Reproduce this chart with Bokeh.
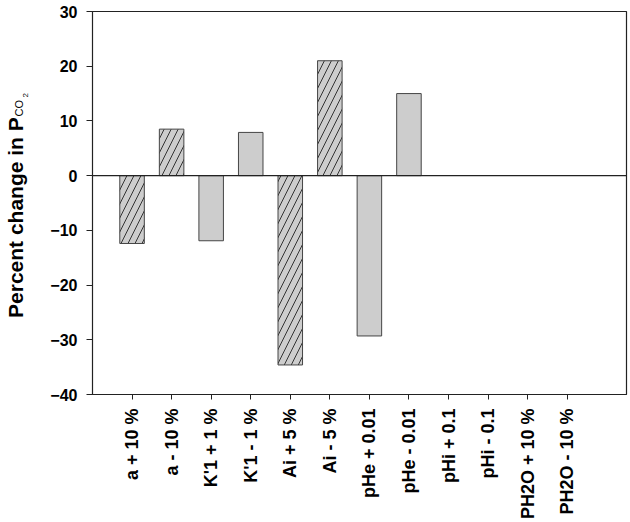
import math
from bokeh.plotting import figure
from bokeh.models import ColumnDataSource, FixedTicker, Span, LinearAxis
from bokeh.embed import file_html
from bokeh.resources import INLINE

categories = ["a + 10 %", "a - 10 %", "K'1 + 1 %", "K'1 - 1 %", "Ai + 5 %", "Ai - 5 %",
              "pHe + 0.01", "pHe - 0.01", "pHi + 0.1", "pHi - 0.1", "PH2O + 10 %", "PH2O - 10 %"]
values = [-12.4, 8.5, -11.9, 7.9, -34.6, 21.0, -29.3, 15.0, 0.0, 0.0, 0.0, 0.0]
hatched = [True, True, False, False, True, True, False, False, False, False, False, False]
y_ticks = [-40, -30, -20, -10, 0, 10, 20, 30]
y_title = "Percent change in P"
y_title_sub = "CO"
y_title_subsub = "2"

positions = list(range(1, len(categories) + 1))
hx = [p for p, h in zip(positions, hatched) if h]
hv = [v for v, h in zip(values, hatched) if h]
px_ = [p for p, h, v in zip(positions, hatched, values) if not h and v != 0]
pv = [v for v, h in zip(values, hatched) if not h and v != 0]

FONT = "Liberation Sans"
NB = "\u00a0"

p = figure(width=630, height=522, x_range=(0, 13.5), y_range=(-40, 30),
           output_backend="svg", toolbar_location=None,
           min_border_left=91, min_border_right=4, min_border_top=11, min_border_bottom=128)
p.grid.visible = False
p.outline_line_color = "#222222"
p.outline_line_width = 1.2
p.background_fill_color = "white"
p.border_fill_color = "white"

src_h = ColumnDataSource(dict(x=hx, top=hv))
src_p = ColumnDataSource(dict(x=px_, top=pv))
p.vbar(x="x", top="top", bottom=0, width=0.62, source=src_h,
       fill_color="#cdcdcd", line_color="#454545", line_width=1,
       hatch_pattern="/", hatch_scale=14, hatch_color="#333333", hatch_weight=1)
p.vbar(x="x", top="top", bottom=0, width=0.62, source=src_p,
       fill_color="#cdcdcd", line_color="#454545", line_width=1)

p.add_layout(Span(location=0, dimension="width", line_color="#222222", line_width=1.2))

# x axis
xa = p.xaxis[0]
xa.ticker = FixedTicker(ticks=positions)
xa.major_label_overrides = {i: c for i, c in zip(positions, categories)}
xa.major_label_orientation = math.pi / 2
xa.major_label_text_font = FONT
xa.major_label_text_font_style = "bold"
xa.major_label_text_font_size = "18px"
xa.major_label_text_color = "black"
xa.major_tick_out = 5
xa.major_tick_in = 0
xa.minor_tick_line_color = None
xa.major_label_standoff = 9
xa.axis_line_color = "#222222"
xa.major_tick_line_color = "#222222"

# y axis
ya = p.yaxis[0]
ya.ticker = FixedTicker(ticks=y_ticks)
ya.major_label_text_font = FONT
ya.major_label_text_font_style = "bold"
ya.major_label_text_font_size = "16px"
ya.major_label_text_color = "black"
ya.major_tick_out = 6
ya.major_tick_in = 0
ya.minor_tick_line_color = None
ya.major_label_standoff = 9
ya.axis_line_color = "#222222"
ya.major_tick_line_color = "#222222"


def title_axis(text, size, style, standoff):
    ax = LinearAxis(ticker=FixedTicker(ticks=[]), axis_label=text,
                    axis_line_color=None, major_tick_line_color=None,
                    minor_tick_line_color=None, major_tick_out=0, major_tick_in=0,
                    axis_label_text_font=FONT, axis_label_text_font_size=size,
                    axis_label_text_font_style=style, axis_label_text_color="black",
                    axis_label_standoff=standoff)
    p.add_layout(ax, "left")
    return ax


# y-axis title "Percent change in P_CO2", built from stacked axis labels
title_axis(NB * 97 + y_title_subsub, "8px", "normal", 18)
title_axis(NB * 62 + y_title_sub, "11px", "normal", -7)
title_axis(y_title + NB * 5, "21px", "bold", -17)

open("out.html", "w").write(file_html(p, INLINE))
